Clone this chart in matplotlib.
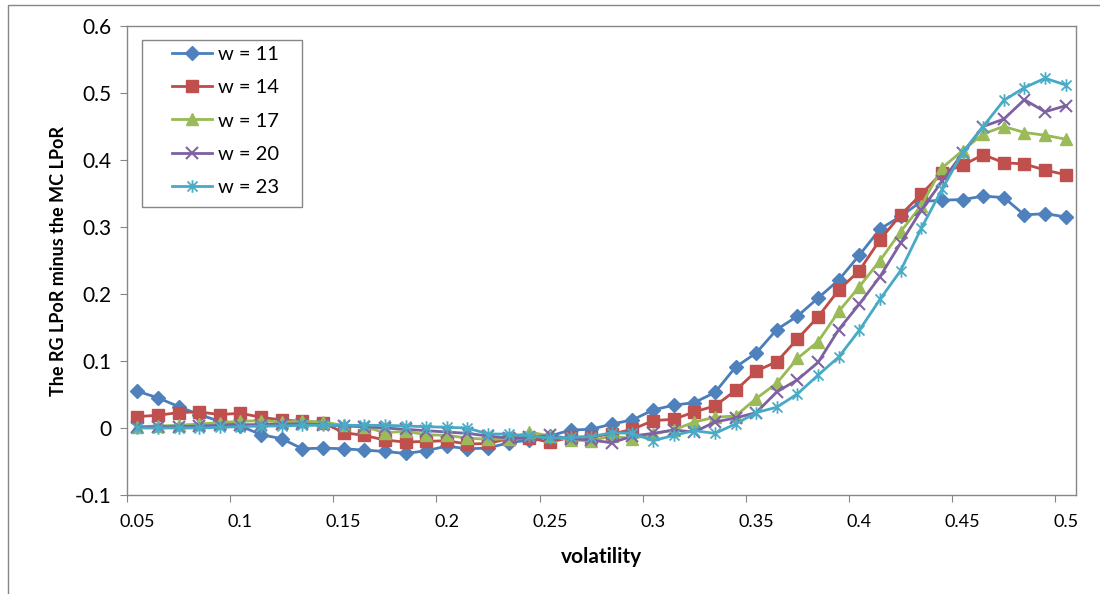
import numpy as np
import matplotlib
matplotlib.use("Agg")
import matplotlib.pyplot as plt
from matplotlib.path import Path
from matplotlib.patches import Rectangle

plt.rcParams['font.family'] = ['Lato', 'DejaVu Sans']

volatility = [0.05, 0.06, 0.07, 0.08, 0.09, 0.10, 0.11, 0.12, 0.13, 0.14,
              0.15, 0.16, 0.17, 0.18, 0.19, 0.20, 0.21, 0.22, 0.23, 0.24,
              0.25, 0.26, 0.27, 0.28, 0.29, 0.30, 0.31, 0.32, 0.33, 0.34,
              0.35, 0.36, 0.37, 0.38, 0.39, 0.40, 0.41, 0.42, 0.43, 0.44,
              0.45, 0.46, 0.47, 0.48, 0.49, 0.50]

w11 = [0.055, 0.045, 0.032, 0.020, 0.010, 0.003, -0.010, -0.016, -0.031, -0.030,
       -0.031, -0.033, -0.035, -0.038, -0.034, -0.027, -0.031, -0.030, -0.022, -0.018,
       -0.012, -0.003, -0.002, 0.006, 0.012, 0.027, 0.034, 0.038, 0.053, 0.091,
       0.112, 0.147, 0.167, 0.194, 0.221, 0.258, 0.297, 0.316, 0.338, 0.340,
       0.341, 0.346, 0.344, 0.318, 0.320, 0.315]
w14 = [0.017, 0.019, 0.023, 0.024, 0.020, 0.022, 0.016, 0.012, 0.010, 0.008,
       -0.007, -0.011, -0.018, -0.021, -0.020, -0.019, -0.024, -0.023, -0.016, -0.015,
       -0.021, -0.014, -0.013, -0.009, -0.002, 0.011, 0.013, 0.024, 0.033, 0.056,
       0.085, 0.099, 0.133, 0.166, 0.206, 0.235, 0.281, 0.318, 0.349, 0.381,
       0.392, 0.408, 0.396, 0.394, 0.385, 0.378]
w17 = [0.002, 0.003, 0.004, 0.006, 0.008, 0.010, 0.011, 0.009, 0.010, 0.009,
       0.004, 0.002, -0.007, -0.005, -0.010, -0.011, -0.015, -0.017, -0.016, -0.006,
       -0.012, -0.018, -0.019, -0.012, -0.016, -0.009, -0.003, 0.009, 0.016, 0.018,
       0.044, 0.067, 0.104, 0.129, 0.174, 0.211, 0.250, 0.293, 0.332, 0.388,
       0.414, 0.439, 0.450, 0.441, 0.437, 0.431]
w20 = [0.001, 0.002, 0.002, 0.003, 0.004, 0.005, 0.005, 0.006, 0.006, 0.005,
       0.003, 0.002, 0.000, -0.002, -0.004, -0.006, -0.008, -0.012, -0.015, -0.014,
       -0.011, -0.016, -0.018, -0.022, -0.012, -0.008, -0.003, -0.006, 0.009, 0.015,
       0.023, 0.054, 0.072, 0.098, 0.147, 0.185, 0.226, 0.276, 0.325, 0.368,
       0.410, 0.450, 0.461, 0.490, 0.472, 0.481]
w23 = [0.000, 0.000, 0.000, 0.000, 0.001, 0.002, 0.003, 0.003, 0.004, 0.004,
       0.004, 0.004, 0.004, 0.003, 0.002, 0.001, 0.000, -0.009, -0.009, -0.012,
       -0.015, -0.014, -0.013, -0.007, -0.008, -0.019, -0.011, -0.004, -0.008, 0.006,
       0.023, 0.031, 0.051, 0.079, 0.106, 0.146, 0.192, 0.235, 0.298, 0.356,
       0.411, 0.450, 0.489, 0.508, 0.522, 0.512]

labels = ['w = 11', 'w = 14', 'w = 17', 'w = 20', 'w = 23']
y_ticks = [-0.1, 0.0, 0.1, 0.2, 0.3, 0.4, 0.5, 0.6]
y_tick_labels = ['-0.1', '0', '0.1', '0.2', '0.3', '0.4', '0.5', '0.6']

# asterisk marker: an x with a vertical bar through it
star = Path([(-1, -1), (1, 1), (-1, 1), (1, -1), (0, -1.25), (0, 1.25)],
            [Path.MOVETO, Path.LINETO, Path.MOVETO, Path.LINETO, Path.MOVETO, Path.LINETO])

styles = [
    dict(color='#4a7ebb', marker='D', ms=7.5, mfc='#4f81bd', mec='#4f81bd'),
    dict(color='#be4b48', marker='s', ms=8, mfc='#c0504d', mec='#c0504d'),
    dict(color='#98b954', marker='^', ms=8.5, mfc='#9bbb59', mec='#9bbb59'),
    dict(color='#7d60a0', marker='x', ms=8, mec='#8064a2', mew=1.5),
    dict(color='#46aac5', marker=star, ms=9, mfc='none', mec='#4bacc6', mew=1.3),
]

W, H = 1100, 594
fig = plt.figure(figsize=(W / 100, H / 100), dpi=100)
fig.patches.append(Rectangle((8 / W, -0.05), 1.1, 1 - 5 / H + 0.05,
                             transform=fig.transFigure, fill=False,
                             edgecolor='#868686', lw=1, zorder=-1))
ax = fig.add_axes([127 / W, 1 - 495 / H, (1076 - 127) / W, (495 - 26) / H])

pos = np.arange(len(volatility))
for series, lab, st in zip([w11, w14, w17, w20, w23], labels, styles):
    ax.plot(pos, series, lw=2, label=lab, **st)

ax.set_xlim(-0.5, len(volatility) - 0.5)
ax.set_ylim(-0.1, 0.6)
ax.set_yticks(y_ticks)
ax.set_yticklabels(y_tick_labels, fontsize=15)

# tick marks sit between categories, labels on every fifth category
ax.set_xticks(np.arange(-0.5, len(volatility) - 1, 5))
ax.set_xticklabels([])
ax.set_xticks(pos[::5], minor=True)
ax.set_xticklabels([f'{v:g}' for v in volatility[::5]], minor=True, fontsize=13)
ax.tick_params(axis='x', which='minor', length=0, pad=14)
ax.tick_params(axis='x', which='major', length=5, color='#868686', direction='out')
ax.tick_params(axis='y', length=5, color='#868686', direction='out', pad=6)

for s in ax.spines.values():
    s.set_color('#868686')
    s.set_linewidth(1)

ax.set_xlabel('volatility', fontsize=15, fontweight='bold', labelpad=12)
ax.set_ylabel('The RG LPoR minus the MC LPoR', fontsize=13, fontweight='bold', labelpad=6)

# legend frame drawn separately so the entries can sit with wide side margins
ax.add_patch(Rectangle((142 / W, 1 - 207 / H), 160 / W, 167 / H,
                       transform=fig.transFigure, facecolor='white',
                       edgecolor='#868686', lw=1, zorder=4.5, clip_on=False))
leg = ax.legend(loc='upper left', bbox_to_anchor=(172 / W, 1 - 46 / H),
                bbox_transform=fig.transFigure, fontsize=14.5, frameon=False,
                handlelength=2.0, handletextpad=0.3, labelspacing=0.8,
                borderpad=0, borderaxespad=0)
leg.set_zorder(5)

fig.savefig('out.png', dpi=100)
